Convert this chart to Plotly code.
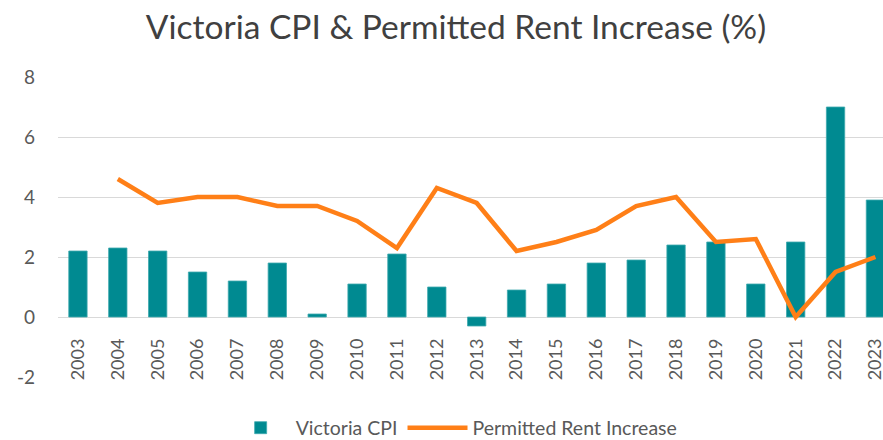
import plotly.graph_objects as go

years = [str(y) for y in range(2003, 2024)]
cpi = [2.2, 2.3, 2.2, 1.5, 1.2, 1.8, 0.1, 1.1, 2.1, 1.0, -0.3, 0.9, 1.1, 1.8, 1.9, 2.4, 2.5, 1.1, 2.5, 7.0, 3.9]
rent = [None, 4.6, 3.8, 4.0, 4.0, 3.7, 3.7, 3.2, 2.3, 4.3, 3.8, 2.2, 2.5, 2.9, 3.7, 4.0, 2.5, 2.6, 0.0, 1.5, 2.0]
y_ticks = [-2, 0, 2, 4, 6, 8]
y_tick_labels = ["-2", "0", "2", "4", "6", "8"]

FONT = "Lato"
GRAY = "#595959"

W, H = 883, 440
L, T, PH = 58, 77, 300

fig = go.Figure()
fig.add_trace(go.Bar(
    x=years, y=cpi, name="Victoria CPI",
    marker=dict(color="#008A91", line=dict(color="#3FA9AE", width=0.8)),
))
fig.add_trace(go.Scatter(
    x=years, y=rent, name="Permitted Rent Increase", mode="lines",
    line=dict(color="#FF7F17", width=4.5), connectgaps=False,
))

fig.update_layout(
    width=W, height=H,
    margin=dict(l=L, r=0, t=T, b=H - T - PH, autoexpand=False),
    paper_bgcolor="white", plot_bgcolor="white",
    font=dict(family=FONT, color=GRAY, size=18),
    title=dict(text="Victoria CPI & Permitted Rent Increase (%)",
               x=456 / W, xanchor="center", y=1 - 27 / H, yanchor="middle",
               font=dict(family=FONT, size=33.5, color="#404040")),
    bargap=0.54,
    showlegend=True,
    legend=dict(orientation="h", x=424 / W, xanchor="center", y=-51 / PH, yanchor="middle",
                font=dict(size=19.5, color=GRAY), itemwidth=60,
                traceorder="normal"),
    xaxis=dict(type="category", range=[-0.5, 20.19], anchor="free", position=0.2,
               showgrid=False, zeroline=False, showline=False, ticks="",
               tickangle=-90, tickfont=dict(size=18, color=GRAY), ticklabelstandoff=17),
    yaxis=dict(range=[-2, 8], tickvals=y_ticks, ticktext=y_tick_labels,
               showgrid=True, gridcolor="#D9D9D9",
               gridwidth=1, zeroline=True, zerolinecolor="#D9D9D9", zerolinewidth=1,
               showline=False, ticks="", tickfont=dict(size=19, color=GRAY),
               ticklabelstandoff=22, domain=[0, 1]),
)

fig.write_html(
    "out.html",
    config={"displayModeBar": False},
    post_script="document.body.style.margin='0';document.body.style.overflow='hidden';",
)
